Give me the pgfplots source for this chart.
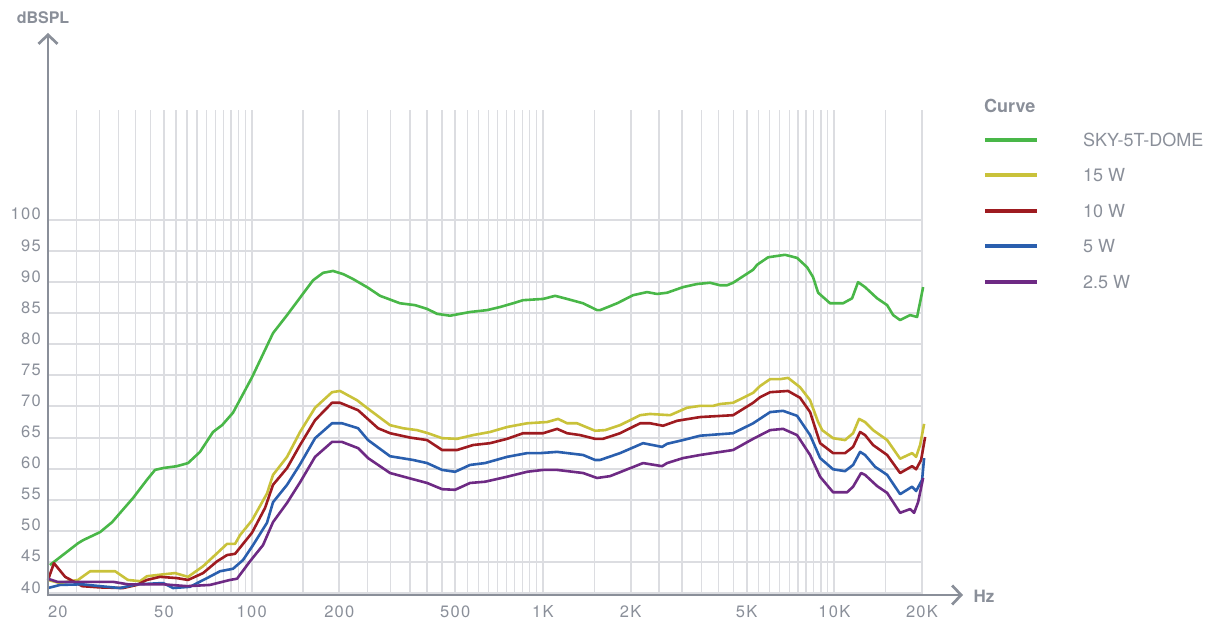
\documentclass[border=0pt]{standalone}
\usepackage{fontspec}
\setmainfont{TeX Gyre Heros}
\newfontfamily\tickfont[LetterSpace=8]{TeX Gyre Heros}
\usepackage{pgfplots}
\pgfplotsset{compat=1.18}
\usetikzlibrary{arrows.meta}
\definecolor{cgreen}{HTML}{49B748}
\definecolor{cyellow}{HTML}{C9C23A}
\definecolor{cred}{HTML}{9E1B20}
\definecolor{cblue}{HTML}{2A5FAE}
\definecolor{cpurple}{HTML}{6E2A84}
\definecolor{cgrid}{HTML}{DCDDE1}
\definecolor{caxis}{HTML}{8A8F99}
\definecolor{ctext}{HTML}{8A8F99}

\pgfplotstableread{
x y
20.3 44.5
25.35 48.0
26.4 48.5
30.2 49.8
33.2 51.4
39.2 55.3
43.7 58.2
46.6 59.8
49.7 60.1
55.4 60.4
60.5 60.9
66.5 62.7
73.7 65.9
79.2 67.0
86.3 69.0
100.3 74.7
118.4 81.8
132.3 84.7
146.6 87.5
162.5 90.3
175.9 91.5
190.3 91.8
205.9 91.3
222.9 90.5
250.9 89.1
275.9 87.8
323.2 86.6
363.8 86.3
400.1 85.7
433.0 84.9
479.8 84.6
562.0 85.2
642.8 85.5
712.5 86.0
789.6 86.6
854.6 87.1
1000.8 87.3
1100.7 87.8
1210 87.3
1373 86.6
1533 85.5
1571 85.5
1797 86.6
2038 87.9
2276 88.4
2463 88.1
2667 88.3
3025 89.2
3380 89.7
3746 89.9
4055 89.5
4285 89.5
4493 89.9
5265 92.0
5434 92.8
5927 94.0
6777 94.4
7450 93.9
8064 92.4
8456 90.8
8798 88.3
9672 86.6
10715 86.6
11508 87.4
12064 90.0
12751 89.2
14024 87.4
15183 86.3
15919 84.7
16821 83.9
18204 84.7
19241 84.4
20175 89.2
}\tgreen

\pgfplotstableread{
x y
20 42.1
22 41.6
25.35 42.1
27.9 43.5
34.0 43.5
37.6 42.1
41.4 41.9
43.7 42.7
49.7 43.0
54.6 43.2
60.5 42.6
68.1 44.3
76.1 46.4
82.3 47.9
87.7 47.9
91.2 49.3
100.3 51.7
112.9 56.0
118.4 59.0
132.3 61.9
146.6 65.9
165.1 69.8
188.8 72.3
201.1 72.5
230.1 71.0
254.9 69.4
298.6 67.0
330.9 66.5
369.6 66.2
403.2 65.7
450.5 64.9
507.1 64.8
575.5 65.4
658.2 65.9
753.0 66.7
882.1 67.3
1033 67.5
1127 68.0
1210 67.3
1309 67.3
1509 66.1
1634 66.2
1839 67.0
2155 68.6
2331 68.8
2731 68.6
3123 69.8
3462 70.1
3836 70.1
4055 70.4
4493 70.6
4864 71.4
5265 72.2
5564 73.3
6022 74.4
6515 74.4
6939 74.6
7630 73.1
8258 71.0
8798 67.5
9082 66.2
9904 64.9
10886 64.6
11600 65.7
12162 68.0
12751 67.5
13585 66.2
15183 64.6
16821 61.6
18496 62.5
19089 61.9
19702 63.8
20335 67.2
}\tyellow

\pgfplotstableread{
x y
20 42.1
20.96 44.8
22.9 42.6
26.2 41.1
30.2 40.9
36.2 40.8
40.4 41.3
43.7 42.1
48.5 42.6
55.4 42.4
60.5 42.1
68.1 43.2
76.1 45.1
82.3 46.1
87.7 46.3
100.3 49.7
111.2 53.7
118.4 57.4
132.3 60.1
146.6 63.8
165.1 67.8
188.8 70.6
201.1 70.6
231.9 69.4
271.6 66.5
298.6 65.7
349.7 65.0
400.1 64.6
450.5 63.0
507.1 63.0
575.5 63.8
658.2 64.1
753.0 64.8
854.6 65.7
1000.8 65.7
1118.3 66.4
1210 65.7
1341 65.4
1509 64.8
1608 64.8
1839 65.7
2155 67.3
2331 67.3
2584 66.9
2886 67.7
3462 68.3
4493 68.6
5265 70.6
5564 71.5
6022 72.3
6939 72.5
7630 71.4
8258 69.1
8939 64.1
9904 62.5
10886 62.5
11600 63.5
12258 65.9
12751 65.4
13585 63.8
15183 62.2
16821 59.3
18496 60.4
19089 59.9
19859 61.4
20497 65.1
}\tred

\pgfplotstableread{
x y
20 40.8
22.0 41.3
26.2 41.4
30.2 41.1
35.3 40.8
40.4 41.4
49.7 41.6
53.7 40.8
61.4 41.0
70.3 42.4
77.9 43.5
86.3 43.9
93.4 45.3
101.1 47.7
112.9 51.3
118.4 54.6
132.3 57.4
146.6 60.7
165.1 64.9
188.8 67.3
204.3 67.3
231.9 66.5
250.9 64.6
298.6 62.0
358.1 61.4
400.1 60.9
450.5 59.8
499.2 59.5
562.0 60.6
632.7 60.9
753.0 61.9
882.1 62.5
977.7 62.5
1118.3 62.7
1373 62.2
1509 61.4
1571 61.4
1839 62.5
2206 64.1
2563 63.5
2667 64.0
3025 64.6
3462 65.3
4493 65.7
5265 67.3
6022 69.1
6672 69.3
7450 68.5
8258 65.4
8939 61.7
9904 59.9
10886 59.6
11600 60.6
12258 62.7
12751 62.2
13802 60.3
15183 59.0
16821 55.9
18496 57.1
19089 56.4
20014 58.2
20335 61.7
}\tblue

\pgfplotstableread{
x y
20 42.3
21.5 41.8
33.4 41.8
37.6 41.4
49.7 41.4
60.0 41.1
72.0 41.3
84.3 42.1
89.1 42.3
98.7 45.1
109.4 47.7
118.4 51.4
132.3 54.5
146.6 57.8
165.1 61.9
188.8 64.3
204.3 64.3
231.9 63.3
250.9 61.7
298.6 59.3
358.1 58.3
400.1 57.7
450.5 56.7
499.2 56.6
562.0 57.7
632.7 57.9
753.0 58.7
882.1 59.5
1000.8 59.8
1118.3 59.8
1373 59.3
1533 58.5
1700 58.8
2206 60.9
2563 60.4
2667 60.9
3025 61.7
3462 62.2
4493 63.0
5265 64.8
6022 66.2
6672 66.4
7450 65.4
8258 62.2
8939 58.7
9904 56.2
11061 56.2
11600 57.1
12355 59.3
12751 59.0
14024 57.2
15183 56.1
16821 52.9
18204 53.5
18791 52.9
19393 54.6
20175 58.5
}\tpurple

\begin{document}
\begin{tikzpicture}
\path[use as bounding box] (0pt,0pt) rectangle (1229pt,624pt);
\begin{axis}[
  at={(48pt,29pt)}, anchor=south west,
  scale only axis, width=874pt, height=485pt,
  xmode=log, xmin=20, xmax=20000, ymin=39.68, ymax=117.69,
  axis line style={draw=none},
  clip=false,
  xtick={20,50,100,200,500,1000,2000,5000,10000,20000},
  xticklabels={\makebox[0pt][l]{20},50,100,200,500,1K,2K,5K,10K,20K},
  minor xtick={25,30,35,40,45,55,60,65,70,75,80,85,90,95,150,250,300,350,400,450,550,600,650,700,750,800,850,900,950,1500,2500,3000,3500,4000,4500,5500,6000,6500,7000,7500,8000,8500,9000,9500,15000},
  ytick={40,45,50,55,60,65,70,75,80,85,90,95,100},
  yticklabels={40,45,50,55,60,65,70,75,80,85,90,95,100},
  xmajorgrids, xminorgrids, ymajorgrids,
  major tick length=0pt, minor tick length=0pt,
  tick style={draw=none},
  major grid style={cgrid, line width=2pt},
  minor grid style={cgrid, line width=1.3pt},
  xticklabel style={font=\tickfont\fontsize{16.5}{16.5}\selectfont, text=ctext, anchor=base, inner sep=0pt, yshift=-22pt},
  yticklabel style={font=\tickfont\fontsize{16.5}{16.5}\selectfont, text=ctext, anchor=base east, inner sep=0pt, xshift=-7pt},
  every axis plot/.append style={line width=2.6pt, line join=round, no marks},
]
\addplot[cgreen] table {\tgreen};
\addplot[cyellow] table {\tyellow};
\addplot[cred] table {\tred};
\addplot[cblue] table {\tblue};
\addplot[cpurple] table {\tpurple};
\end{axis}
% axis lines with open arrow heads
\draw[caxis, line width=2.7pt, -{Straight Barb[length=9pt,width=19pt,line width=2.7pt]}] (48pt,27.65pt) -- (48pt,591pt);
\draw[caxis, line width=2.7pt, -{Straight Barb[length=9pt,width=19pt,line width=2.7pt]}] (46.65pt,29pt) -- (963pt,29pt);
\node[font=\bfseries\fontsize{16}{16}\selectfont, text=ctext, anchor=center, inner sep=0pt] at (43pt,606pt) {dBSPL};
\node[font=\bfseries\fontsize{17}{17}\selectfont, text=ctext, anchor=center, inner sep=0pt] at (984pt,28pt) {Hz};
% legend
\node[font=\bfseries\fontsize{18}{18}\selectfont, text=ctext, anchor=base west, inner sep=0pt] at (984pt,511pt) {Curve};
\foreach \c/\yy/\t in {cgreen/484/SKY-5T-DOME, cyellow/449/15 W, cred/413/10 W, cblue/378/5 W, cpurple/342/2.5 W}{
  \draw[\c, line width=3.7pt] (985pt,\yy pt) -- (1037pt,\yy pt);
  \node[font=\fontsize{18}{18}\selectfont, text=ctext, anchor=base west, inner sep=0pt] at (1083pt,\yy pt-6.4pt) {\t};
}
\end{tikzpicture}
\end{document}
